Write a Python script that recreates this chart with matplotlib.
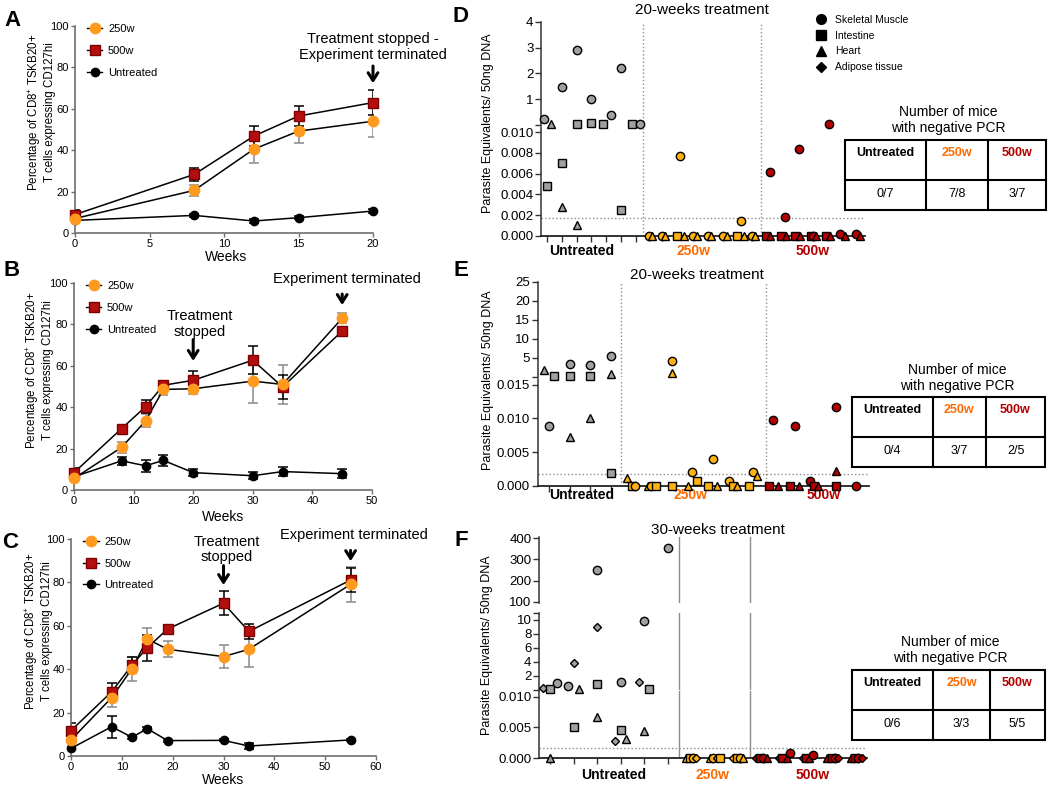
import matplotlib
matplotlib.use('Agg')
import matplotlib.pyplot as plt
from matplotlib.lines import Line2D
from matplotlib.patches import Rectangle

plt.rcParams['font.family'] = ['Liberation Sans', 'DejaVu Sans']
plt.rcParams['mathtext.fontset'] = 'custom'
plt.rcParams['mathtext.rm'] = 'Liberation Sans'

W, H = 1050, 790

### Data: CD8+ TSKB20+ CD127hi time courses (panels A-C)
a_weeks = [0, 8, 12, 15, 20]
a_250 = [7, 20.6, 40.5, 49.2, 54]
a_250_err = [1.5, 2.5, 6.5, 5.8, 7.7]
a_500 = [8.9, 28.3, 46.8, 56.5, 63]
a_500_err = [2, 3, 4.8, 5, 6]
a_unt = [6.1, 8.5, 5.8, 7.4, 10.6]
a_unt_err = [0.8, 0.8, 0.8, 0.8, 0.8]

b_weeks = [0, 8, 12, 15, 20, 30, 35, 45]
b_250 = [5.6, 20.6, 33.4, 48.6, 48.9, 52.6, 51, 83]
b_250_err = [1, 2.8, 3.2, 2.5, 2.7, 10.5, 9.5, 2.4]
b_500 = [8.4, 29.7, 40.2, 50.6, 53, 62.7, 49.8, 76.8]
b_500_err = [2, 0.8, 3.2, 2, 4.5, 6.7, 5.6, 1]
b_unt = [6.4, 14.1, 11.7, 14.3, 8.4, 6.9, 8.9, 7.9]
b_unt_err = [1, 1.8, 3, 2.5, 1.8, 1.8, 2, 2.2]

c_weeks = [0, 8, 12, 15, 19, 30, 35, 55]
c_250 = [7.4, 26.9, 40.2, 53.9, 49.2, 45.8, 49.2, 79.1]
c_250_err = [1, 4.2, 5.5, 5, 3.6, 5.3, 8.4, 8]
c_500 = [11.7, 29.6, 41.9, 49.9, 58.5, 70.4, 57.4, 81.1]
c_500_err = [3.7, 4.2, 3.8, 6, 1, 5.5, 3.5, 5.6]
c_unt = [3.5, 13.5, 8.6, 12.6, 7.1, 7.2, 4.6, 7.4]
c_unt_err = [0.5, 5, 0.8, 0.8, 0.5, 0.5, 1.5, 0.5]

### Data: parasite load per mouse and tissue (panels D-F)
# mouse = position along x (one unit per mouse), SM/IN/HE/AD = tissue
groups = ['Untreated', '250w', '500w']
tissues = ['Skeletal Muscle', 'Intestine', 'Heart', 'Adipose tissue']

d_counts = [7, 8, 7]
d_mouse = [-0.23, 0.02, 0.29, 1, 1, 1, 2, 2, 2, 3, 3, 3.79, 4.32, 5, 5, 5.76, 6.27,
           6.88, 7.07, 7.79, 7.97, 8.76, 9.0, 9.26, 9.89, 10.16, 10.9, 11.06, 11.92, 12.14,
           12.82, 13.11, 13.32, 13.88, 14.06,
           14.8, 15.07, 15.11, 15.79, 16.08, 16.13, 16.76, 17.03, 17.09, 17.82, 18.0, 18.18,
           18.85, 19.05, 19.12, 19.84, 20.14, 20.88, 21.15]
d_value = [0.23, 0.0048, 0.02, 1.49, 0.0070, 0.0028, 2.91, 0.02, 0.00106, 1.02, 0.06, 0.02,
           0.38, 2.2, 0.0025, 0.02, 0.03,
           0, 0, 0, 0, 0, 0.0077, 0, 0, 0, 0, 0, 0, 0, 0, 0.00144, 0, 0, 0,
           0, 0.0062, 0, 0, 0.0018, 0, 0, 0.0084, 0, 0, 0, 0, 0, 0.02, 0, 0.0002, 0, 0.0002, 0]
d_tissue = ['SM', 'IN', 'HE', 'SM', 'IN', 'HE', 'SM', 'IN', 'HE', 'SM', 'IN', 'IN', 'SM', 'SM', 'IN', 'IN', 'SM',
            'SM', 'HE', 'SM', 'HE', 'IN', 'SM', 'HE', 'SM', 'HE', 'SM', 'HE', 'SM', 'HE', 'IN', 'SM', 'HE', 'SM', 'HE',
            'IN', 'SM', 'HE', 'IN', 'SM', 'HE', 'IN', 'SM', 'HE', 'IN', 'SM', 'HE', 'IN', 'SM', 'HE', 'SM', 'HE', 'SM', 'HE']
d_threshold = 0.0017
d_negative = ['0/7', '7/8', '3/7']

e_counts = [4, 7, 5]
e_mouse = [-0.24, 0, 0.24, 1, 1, 1, 2, 2, 2, 3, 3, 3,
           3.75, 4.0, 4.16, 4.77, 4.94, 5.18, 5.94, 5.94, 5.94, 6.72, 6.94, 7.18, 7.69, 7.93, 8.16,
           8.74, 8.93, 9.13, 9.69, 9.9, 10.1,
           10.66, 10.87, 11.1, 11.68, 11.93, 12.14, 12.65, 12.85, 13.06, 13.9, 13.9, 13.9, 14.9]
e_value = [1.8, 0.0089, 0.3, 3.5, 0.3, 0.0073, 3.25, 0.3, 0.0100, 5.5, 0.75, 0.0019,
           0.0011, 0, 0, 0, 0, 0, 4.2, 0.9, 0, 0, 0.0021, 0.0007, 0, 0.0039, 0,
           0.0007, 0, 0, 0, 0.0020, 0.0015,
           0, 0.0097, 0, 0, 0.0089, 0, 0.0007, 0, 0, 0, 0.0022, 0.0117, 0]
e_tissue = ['HE', 'SM', 'IN', 'SM', 'IN', 'HE', 'SM', 'IN', 'HE', 'SM', 'HE', 'IN',
            'HE', 'IN', 'SM', 'HE', 'SM', 'IN', 'SM', 'HE', 'IN', 'HE', 'SM', 'IN', 'IN', 'SM', 'HE',
            'SM', 'IN', 'HE', 'IN', 'SM', 'HE',
            'IN', 'SM', 'HE', 'IN', 'SM', 'HE', 'SM', 'IN', 'HE', 'IN', 'HE', 'SM', 'SM']
e_threshold = 0.0018
e_negative = ['0/4', '3/7', '2/5']

f_counts = [6, 3, 5]
f_mouse = [-0.28, 0, 0.28, 0, 0.78, 1.02, 1.02, 1.23, 1.98, 1.98, 1.98, 1.98, 2.76, 3.02, 3.02,
           3.22, 3.78, 3.99, 3.99, 4.22, 5.0,
           5.8, 5.95, 6.1, 6.22, 6.8, 6.95, 7.1, 7.22, 7.8, 7.95, 8.1, 8.22,
           8.77, 8.94, 9.08, 9.22, 9.76, 9.89, 10.07, 10.21, 10.75, 10.88, 11.03, 11.2,
           11.8, 11.99, 12.13, 12.27, 12.81, 12.98, 13.12, 13.29]
f_value = [0.2, 0.05, 0.9, 0, 0.5, 3.8, 0.0051, 0.1, 250, 8.9, 0.8, 0.0067, 0.0028, 0.0046, 1.05,
           0.0031, 1.05, 9.8, 0.0045, 0.05, 355,
           0, 0, 0, 0, 0, 0, 0, 0, 0, 0, 0, 0,
           0, 0, 0, 0, 0, 0, 0, 0.0008, 0, 0, 0, 0.0005,
           0, 0, 0, 0, 0, 0, 0, 0]
f_tissue = ['AD', 'IN', 'SM', 'HE', 'SM', 'AD', 'IN', 'HE', 'SM', 'AD', 'IN', 'HE', 'AD', 'IN', 'SM',
            'HE', 'AD', 'SM', 'HE', 'IN', 'SM',
            'HE', 'IN', 'SM', 'AD', 'HE', 'SM', 'AD', 'IN', 'AD', 'IN', 'SM', 'HE',
            'AD', 'IN', 'SM', 'HE', 'AD', 'IN', 'HE', 'SM', 'AD', 'IN', 'HE', 'SM',
            'HE', 'IN', 'SM', 'AD', 'HE', 'IN', 'SM', 'AD']
f_threshold = 0.0016
f_negative = ['0/6', '3/3', '5/5']

### Styles
ORANGE = '#FF9A1F'
RED = '#B30F0F'
AMBER = '#FFB20F'
DKRED = '#B40000'
GREY = '#A0A0A0'
TXT_OR = '#FF6A00'
TXT_RD = '#B40000'
AXC = '#6e6e6e'
markers = {'SM': ('o', 6), 'IN': ('s', 5.6), 'HE': ('^', 5.6), 'AD': ('D', 4.3)}
fills = [GREY, AMBER, DKRED]
label_colors = ['black', TXT_OR, TXT_RD]

fig = plt.figure(figsize=(W / 100, H / 100), dpi=100)


def box(l, r, t, b):
    return [l / W, 1 - b / H, (r - l) / W, (b - t) / H]


### Line panels
def line_panel(l, r, t, b, weeks, v250, e250, v500, e500, vun, eun, xmax, xstep):
    ax = fig.add_axes(box(l, r, t, b))
    eb = dict(fmt='none', elinewidth=1.1, capsize=3.5, capthick=1.1, zorder=2)
    ax.errorbar(weeks, v250, yerr=e250, ecolor='#8a8a8a', **eb)
    ax.errorbar(weeks, v500, yerr=e500, ecolor='black', **eb)
    ax.errorbar(weeks, vun, yerr=eun, ecolor='black', **eb)
    for v in (v250, v500, vun):
        ax.plot(weeks, v, color='black', lw=1.1, zorder=3, clip_on=False)
    ax.plot(weeks, vun, ls='none', marker='o', ms=6, mfc='black', mec='black', zorder=4, clip_on=False)
    ax.plot(weeks, v500, ls='none', marker='s', ms=7, mfc=RED, mec='#7d0000', zorder=5, clip_on=False)
    ax.plot(weeks, v250, ls='none', marker='o', ms=7.5, mfc=ORANGE, mec=ORANGE, zorder=6, clip_on=False)
    ax.set_xlim(0, xmax)
    ax.set_ylim(0, 100)
    ax.set_xticks(range(0, xmax + 1, xstep))
    ax.set_yticks(range(0, 101, 20))
    for s in ('top', 'right'):
        ax.spines[s].set_visible(False)
    for s in ('left', 'bottom'):
        ax.spines[s].set_color(AXC)
        ax.spines[s].set_linewidth(1.2)
    ax.tick_params(labelsize=8, length=3, width=1, color=AXC, pad=1.5)
    handles = [Line2D([], [], color='black', lw=1, marker='o', ms=7.5, mfc=ORANGE, mec=ORANGE),
               Line2D([], [], color='black', lw=1, marker='s', ms=7, mfc=RED, mec='#7d0000'),
               Line2D([], [], color='black', lw=1, marker='o', ms=6, mfc='black', mec='black')]
    ax.legend(handles, ['250w', '500w', 'Untreated'], loc='upper left', bbox_to_anchor=(0.025, 1.03),
              frameon=False, fontsize=8, handlelength=1.4, handletextpad=0.5, labelspacing=1.05,
              borderaxespad=0)
    return ax


def arrow(ax, x, y_tail, y_tip):
    ax.annotate('', xy=(x, y_tip), xytext=(x, y_tail), annotation_clip=False,
                arrowprops=dict(arrowstyle='->,head_length=0.55,head_width=0.35', lw=2.2, color='black'))


ax_a = line_panel(75, 373, 26, 233, a_weeks, a_250, a_250_err, a_500, a_500_err, a_unt, a_unt_err, 20, 5)
ax_a.text(20, 90, 'Treatment stopped -\nExperiment terminated', ha='center', va='center', fontsize=10.5,
          linespacing=1.15)
arrow(ax_a, 20, 82, 71)

ax_b = line_panel(74, 372, 283, 490, b_weeks, b_250, b_250_err, b_500, b_500_err, b_unt, b_unt_err, 50, 10)
ax_b.text(21.1, 80.2, 'Treatment\nstopped', ha='center', va='center', fontsize=10.5, linespacing=1.15)
arrow(ax_b, 20, 74, 61)
ax_b.text(45.8, 101.9, 'Experiment terminated', ha='center', va='center', fontsize=10.5)
arrow(ax_b, 45, 96, 88)

ax_c = line_panel(71, 376, 539, 756, c_weeks, c_250, c_250_err, c_500, c_500_err, c_unt, c_unt_err, 60, 10)
ax_c.text(30.7, 95.2, 'Treatment\nstopped', ha='center', va='center', fontsize=10.5, linespacing=1.15)
arrow(ax_c, 30, 89, 77.5)
ax_c.text(55.7, 101.8, 'Experiment terminated', ha='center', va='center', fontsize=10.5)
arrow(ax_c, 55, 96, 88.5)

ylab = 'Percentage of CD8$^{+}$ TSKB20+\nT cells expressing CD127hi'
for (x, y) in [(41, 112), (39, 370), (38, 631)]:
    fig.text(x / W, 1 - y / H, ylab, rotation=90, ha='center', va='center', fontsize=8.3, linespacing=1.05)
for (x, y) in [(226, 257), (223, 517), (223.5, 780)]:
    fig.text(x / W, 1 - y / H, 'Weeks', ha='center', va='center', fontsize=10)


### Broken-axis scatter panels
def scatter_panel(l, r, segs, xlim, mouse, value, tissue, counts, thr, sep_ls, lab_x, lab_dy):
    b1 = counts[0] - 0.5
    b2 = counts[0] + counts[1] - 0.5
    axes = []
    n = len(segs)
    for i, (t, b, lo, hi, ticks, labels) in enumerate(segs):
        ax = fig.add_axes(box(l, r, t, b))
        ax.patch.set_visible(False)
        ax.set_xlim(xlim)
        ax.set_ylim(lo, hi)
        ax.set_yticks(ticks)
        ax.set_yticklabels(labels)
        for s in ('top', 'right'):
            ax.spines[s].set_visible(False)
        ax.spines['left'].set_color('#333333')
        ax.spines['left'].set_linewidth(1.1)
        ax.tick_params(axis='y', labelsize=9.5, length=4, width=1, color='#333333', pad=1.5)
        if i < n - 1:
            ax.spines['bottom'].set_visible(False)
            ax.set_xticks([])
        else:
            ax.spines['bottom'].set_color('#222222')
            ax.spines['bottom'].set_linewidth(1.3)
            ax.set_xticks(range(counts[0]))
            ax.set_xticklabels([])
            ax.tick_params(axis='x', length=4, width=1, color='#333333')
            ax.axhline(thr, color='#8c8c8c', ls=':', lw=1)
            for k, g in enumerate(groups):
                ax.annotate(g, xy=(lab_x[k], 0), xycoords=('data', 'axes fraction'),
                            xytext=(0, -lab_dy), textcoords='offset points', ha='center', va='center',
                            fontsize=10, fontweight='bold', color=label_colors[k], annotation_clip=False)
        for bx in (b1, b2):
            ax.axvline(bx, color='#8c8c8c', ls=sep_ls, lw=1)
        axes.append(ax)
    for xi, v, ti in zip(mouse, value, tissue):
        k = n - 1
        while k > 0 and v > segs[k][3]:
            k -= 1
        g = 0 if xi < b1 else (1 if xi < b2 else 2)
        m, ms = markers[ti]
        axes[k].plot(xi, v, ls='none', marker=m, ms=ms, mfc=fills[g], mec='black', mew=1,
                     clip_on=False, zorder=5)
    return axes


def fmt3(vals):
    return ['%.3f' % v for v in vals]


d_axes = scatter_panel(541, 865, [
    (22, 124.8, 0, 4, [0, 1, 2, 3, 4], ['', '1', '2', '3', '4']),
    (126.8, 236, 0, 0.0105, [0, 0.002, 0.004, 0.006, 0.008, 0.010], fmt3([0, 0.002, 0.004, 0.006, 0.008, 0.010])),
], (-0.4, 21.5), d_mouse, d_value, d_tissue, d_counts, d_threshold, ':', [2.34, 9.9, 17.97], 10.5)

e_axes = scatter_panel(537.7, 868.6, [
    (281.7, 376.9, 0, 25, [0, 5, 10, 15, 20, 25], ['', '5', '10', '15', '20', '25']),
    (379.4, 485.7, 0, 0.0158, [0, 0.005, 0.010, 0.015], fmt3([0, 0.005, 0.010, 0.015])),
], (-0.56, 15.5), e_mouse, e_value, e_tissue, e_counts, e_threshold, ':', [1.57, 6.83, 13.3], 6.5)

f_axes = scatter_panel(539, 867.3, [
    (537.2, 603.4, 92, 405, [100, 200, 300, 400], ['100', '200', '300', '400']),
    (613.4, 689.7, 0, 10.9, [0, 2, 4, 6, 8, 10, 10.9], ['', '2', '4', '6', '8', '10', '']),
    (691, 758.3, 0, 0.0109, [0, 0.005, 0.010], fmt3([0, 0.005, 0.010])),
], (-0.47, 13.5), f_mouse, f_value, f_tissue, f_counts, f_threshold, '-', [2.69, 6.9, 11.16], 12)

for (x, y, s) in [(702, 10, '20-weeks treatment'), (697, 275, '20-weeks treatment'),
                  (718, 530, '30-weeks treatment')]:
    fig.text(x / W, 1 - y / H, s, ha='center', va='center', fontsize=11)
for (x, y) in [(488, 123), (488, 380), (487, 645)]:
    fig.text(x / W, 1 - y / H, 'Parasite Equivalents/ 50ng DNA', rotation=90, ha='center', va='center',
             fontsize=9)

leg_handles = [Line2D([], [], ls='none', marker=markers[k][0], ms=markers[k][1] + 1, mfc='black', mec='black')
               for k in ('SM', 'IN', 'HE', 'AD')]
fig.legend(leg_handles, tissues, loc='upper left', bbox_to_anchor=(816 / W, 1 - 15 / H), frameon=False,
           fontsize=7.5, handlelength=1.0, handletextpad=0.8, labelspacing=0.55, borderaxespad=0,
           borderpad=0)

### Overlay: panel letters and PCR tables
ov = fig.add_axes([0, 0, 1, 1])
ov.set_xlim(0, W)
ov.set_ylim(H, 0)
ov.axis('off')

for (x, y, s) in [(12.5, 20.5, 'A'), (11.5, 270.5, 'B'), (10.5, 542.5, 'C'),
                  (461, 16, 'D'), (461, 271, 'E'), (461, 540, 'F')]:
    ov.text(x, y, s, ha='center', va='center', fontsize=16, fontweight='bold')


def pcr_table(cols, top, mid, bot, title_x, title_y, values):
    ov.text(title_x, title_y, 'Number of mice\nwith negative PCR', ha='center', va='center', fontsize=10,
            linespacing=1.15)
    ov.add_patch(Rectangle((cols[0], top), cols[-1] - cols[0], bot - top, fill=False, lw=1.5, ec='black'))
    ov.plot([cols[0], cols[-1]], [mid, mid], color='black', lw=1.5)
    for c in cols[1:-1]:
        ov.plot([c, c], [top, bot], color='black', lw=1.5)
    for k in range(3):
        xc = (cols[k] + cols[k + 1]) / 2
        ov.text(xc, top + 13.5, groups[k], ha='center', va='center', fontsize=9, fontweight='bold',
                color=label_colors[k])
        ov.text(xc, (mid + bot) / 2 - 1, values[k], ha='center', va='center', fontsize=9)


pcr_table([845, 926, 988, 1046], 140, 180, 210, 948, 120, d_negative)
pcr_table([851.7, 932.7, 986, 1045], 396.7, 436.7, 466.7, 957, 378, e_negative)
pcr_table([851.7, 933.3, 990, 1045], 670, 710, 740, 950, 650, f_negative)

plt.savefig('out.png', dpi=100)
